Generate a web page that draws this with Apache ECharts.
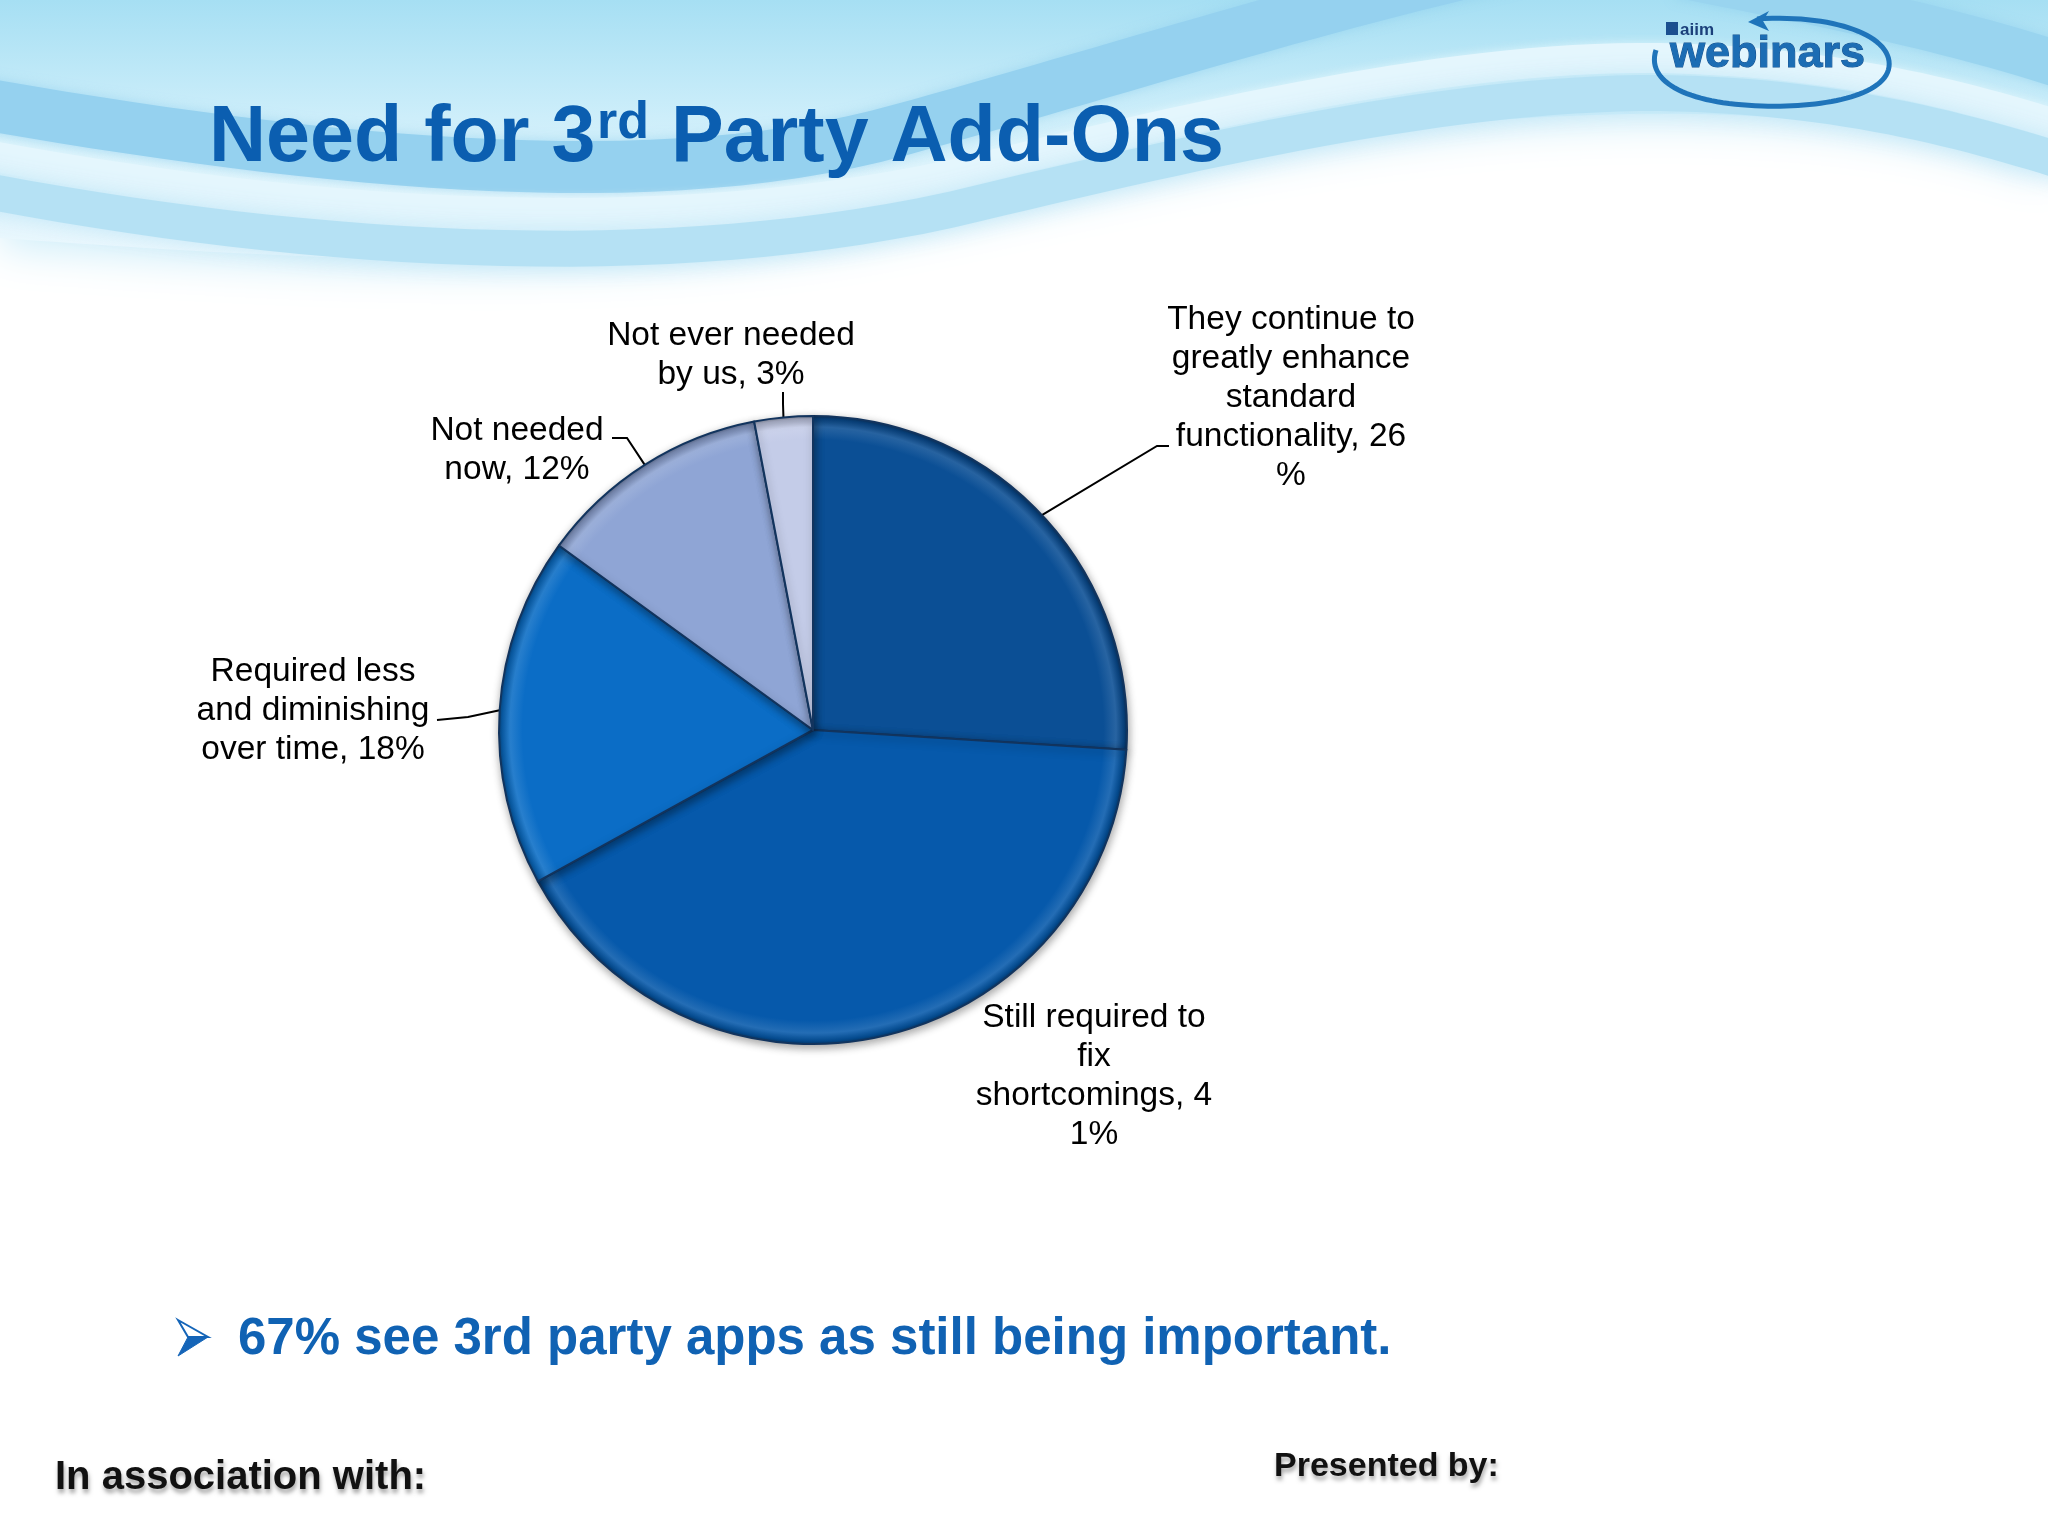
<!DOCTYPE html>
<html>
<head>
<meta charset="utf-8">
<script src="https://cdn.jsdelivr.net/npm/echarts@6/dist/echarts.min.js"></script>
<style>
html,body{margin:0;padding:0;background:#fff;}
#chart{width:2048px;height:1536px;}
</style>
</head>
<body>
<div id="chart"></div>
<script>
// ---------------- data ----------------
const categories = [
  'They continue to greatly enhance standard functionality',
  'Still required to fix shortcomings',
  'Required less and diminishing over time',
  'Not needed now',
  'Not ever needed by us'
];
const values = [26, 41, 18, 12, 3];
const labelTexts = [
  'They continue to\ngreatly enhance\nstandard\nfunctionality, 26\n%',
  'Still required to\nfix\nshortcomings, 4\n1%',
  'Required less\nand diminishing\nover time, 18%',
  'Not needed\nnow, 12%',
  'Not ever needed\nby us, 3%'
];
const sliceColors = ['#0b4f95', '#0659ab', '#0b6dc6', '#8fa5d5', '#c4cce8'];
const titleParts = ['Need for 3', 'rd', ' Party Add-Ons'];
const bulletText = '67% see 3rd party apps as still being important.';
const footerLeft = 'In association with:';
const footerRight = 'Presented by:';
const logoSmall = 'aiim';
const logoBig = 'webinars';

// ---------------- layout ----------------
const PIE_CX = 813, PIE_CY = 730, PIE_R = 314;
const FONT = '"Liberation Sans", Arial, Helvetica, sans-serif';
const LABEL_LAYOUT = [
  { x: 1291, y: 398, line: [[1157, 446], [1169, 446]] },
  { x: 1094, y: 1076, line: null },
  { x: 313,  y: 711, line: [[468, 717], [437, 720]] },
  { x: 517,  y: 450, line: [[627, 438], [612, 438]] },
  { x: 731,  y: 355, line: [[783, 404], [783, 392]] }
];

function mix(hex, target, t) {
  const a = parseInt(hex.slice(1), 16), b = parseInt(target.slice(1), 16);
  const r = Math.round(((a >> 16) & 255) * (1 - t) + ((b >> 16) & 255) * t);
  const g = Math.round(((a >> 8) & 255) * (1 - t) + ((b >> 8) & 255) * t);
  const bl = Math.round((a & 255) * (1 - t) + (b & 255) * t);
  return 'rgb(' + r + ',' + g + ',' + bl + ')';
}
function sliceFill(c) {
  return {
    type: 'radial', x: PIE_CX, y: PIE_CY, r: PIE_R, global: true,
    colorStops: [
      { offset: 0, color: c },
      { offset: 0.925, color: c },
      { offset: 0.965, color: mix(c, '#ffffff', 0.12) },
      { offset: 0.99, color: mix(c, '#000000', 0.15) },
      { offset: 1, color: mix(c, '#000000', 0.35) }
    ]
  };
}
// sample a decorative outline made of straight / cubic segments into points
function sampleCurve(start, segs) {
  const pts = [start];
  let p0 = start;
  segs.forEach(function (seg) {
    if (seg.length === 1) { pts.push(seg[0]); p0 = seg[0]; return; }
    const c1 = seg[0], c2 = seg[1], p3 = seg[2];
    for (let i = 1; i <= 30; i++) {
      const t = i / 30, u = 1 - t;
      pts.push([
        u * u * u * p0[0] + 3 * u * u * t * c1[0] + 3 * u * t * t * c2[0] + t * t * t * p3[0],
        u * u * u * p0[1] + 3 * u * u * t * c1[1] + 3 * u * t * t * c2[1] + t * t * t * p3[1]
      ]);
    }
    p0 = p3;
  });
  return pts;
}

const pieData = categories.map((name, i) => {
  const item = {
    name: name,
    value: values[i],
    itemStyle: { color: sliceFill(sliceColors[i]) }
  };
  if (!LABEL_LAYOUT[i].line) item.labelLine = { show: false };
  return item;
});

// ---------------- background decoration ----------------
const bgGraphics = [
  {
    type: 'polygon', z: 0, silent: true,
    shape: { points: sampleCurve([0, 0], [
      [[2048, 0]], [[2048, 170]],
      [[1900, 115], [1700, 105], [1500, 120]],
      [[1250, 140], [1050, 200], [850, 235]],
      [[600, 275], [300, 260], [0, 238]]
    ]) },
    style: {
      fill: { type: 'linear', x: 0, y: 0, x2: 0, y2: 1, colorStops: [
        { offset: 0, color: '#a6dff3' }, { offset: 0.45, color: '#cdeefa' }, { offset: 1, color: '#eef9fe' }
      ] },
      shadowBlur: 40, shadowColor: 'rgba(200,235,248,0.9)', shadowOffsetY: 8
    }
  },
  {
    type: 'polyline', z: 1, silent: true,
    shape: { points: sampleCurve([-40, 100], [[[300, 160], [650, 200], [900, 130]], [[1100, 75], [1300, 10], [1520, -40]]]) },
    style: { stroke: '#95d1ef', lineWidth: 52, shadowBlur: 12, shadowColor: 'rgba(140,205,236,0.6)' }
  },
  {
    type: 'polyline', z: 1, silent: true,
    shape: { points: sampleCurve([-40, 150], [[[300, 215], [650, 240], [950, 175]], [[1200, 115], [1450, 55], [1660, 58]], [[1850, 62], [1980, 100], [2090, 135]]]) },
    style: { stroke: '#e4f6fd', lineWidth: 30, shadowBlur: 10, shadowColor: 'rgba(230,247,253,0.8)' }
  },
  {
    type: 'polyline', z: 1, silent: true,
    shape: { points: sampleCurve([-40, 186], [[[300, 252], [650, 275], [950, 210]], [[1200, 150], [1450, 92], [1660, 93]], [[1850, 96], [1980, 135], [2090, 170]]]) },
    style: { stroke: '#b5e1f4', lineWidth: 36, shadowBlur: 22, shadowColor: 'rgba(190,228,246,0.9)' }
  },
  {
    type: 'polyline', z: 1, silent: true,
    shape: { points: sampleCurve([1680, -25], [[[1830, 5], [1960, 30], [2090, 75]]]) },
    style: { stroke: '#99d4ef', lineWidth: 46, shadowBlur: 12, shadowColor: 'rgba(140,205,236,0.6)' }
  },
  // logo swoosh
  {
    type: 'polyline', z: 3, silent: true,
    shape: { points: sampleCurve([1757, 19], [[[1835, 14], [1893, 36], [1889, 67]], [[1885, 96], [1822, 108], [1762, 106]], [[1692, 104], [1645, 84], [1656, 50]]]) },
    style: { stroke: '#1f74ba', lineWidth: 5 }
  },
  {
    type: 'polygon', z: 3, silent: true,
    shape: { points: [[1748, 22], [1769, 11], [1763, 21], [1769, 31]] },
    style: { fill: '#1f74ba' }
  },
  {
    type: 'rect', z: 3, silent: true,
    shape: { x: 1666, y: 22, width: 12, height: 13 },
    style: { fill: '#1b4f8f' }
  },
  {
    type: 'text', z: 3, silent: true,
    style: { text: logoSmall, x: 1680, y: 30, fontSize: 17, fontWeight: 'bold', fontFamily: FONT, fill: '#1b3f7a', verticalAlign: 'middle' }
  },
  {
    type: 'text', z: 3, silent: true,
    style: { text: logoBig, x: 1670, y: 55, fontSize: 45, fontWeight: 'bold', fontFamily: FONT, fill: '#1c6db4', verticalAlign: 'middle', stroke: '#15508d', lineWidth: 1 }
  },
  // title
  {
    type: 'text', z: 3, silent: true,
    style: { text: titleParts[0], x: 209, y: 139, fontSize: 79, fontWeight: 'bold', fontFamily: FONT, fill: '#0b5eb0', verticalAlign: 'middle' }
  },
  {
    type: 'text', z: 3, silent: true,
    style: { text: titleParts[1], x: 597, y: 124, fontSize: 52, fontWeight: 'bold', fontFamily: FONT, fill: '#0b5eb0', verticalAlign: 'middle' }
  },
  {
    type: 'text', z: 3, silent: true,
    style: { text: titleParts[2], x: 649, y: 139, fontSize: 79, fontWeight: 'bold', fontFamily: FONT, fill: '#0b5eb0', verticalAlign: 'middle' }
  },
  // bullet arrow
  {
    type: 'polygon', z: 3, silent: true,
    shape: { points: [[178, 1320], [208, 1337], [188, 1337]] },
    style: { fill: '#ffffff', stroke: '#1565b8', lineWidth: 2 }
  },
  {
    type: 'polygon', z: 3, silent: true,
    shape: { points: [[188, 1337], [208, 1337], [178, 1356]] },
    style: { fill: '#1565b8', stroke: '#1565b8', lineWidth: 1 }
  },
  {
    type: 'text', z: 3, silent: true,
    style: { text: bulletText, x: 238, y: 1340, fontSize: 51, fontWeight: 'bold', fontFamily: FONT, fill: '#1062b3', verticalAlign: 'middle' }
  },
  // footer
  {
    type: 'text', z: 3, silent: true,
    style: { text: footerLeft, x: 55, y: 1478, fontSize: 40, fontWeight: 'bold', fontFamily: FONT, fill: '#111111', verticalAlign: 'middle',
      textShadowColor: 'rgba(0,0,0,0.35)', textShadowBlur: 4, textShadowOffsetX: 1, textShadowOffsetY: 4 }
  },
  {
    type: 'text', z: 3, silent: true,
    style: { text: footerRight, x: 1274, y: 1467, fontSize: 34, fontWeight: 'bold', fontFamily: FONT, fill: '#111111', verticalAlign: 'middle',
      textShadowColor: 'rgba(0,0,0,0.35)', textShadowBlur: 4, textShadowOffsetX: 1, textShadowOffsetY: 4 }
  }
];

const chart = echarts.init(document.getElementById('chart'), null, { renderer: 'canvas', width: 2048, height: 1536 });
chart.setOption({
  backgroundColor: '#ffffff',
  animation: false,
  graphic: { elements: bgGraphics },
  series: [{
    type: 'pie',
    z: 5,
    center: [PIE_CX, PIE_CY],
    radius: PIE_R,
    startAngle: 90,
    clockwise: true,
    avoidLabelOverlap: false,
    silent: true,
    data: pieData,
    itemStyle: {
      borderColor: '#12345e',
      borderWidth: 2,
      shadowBlur: 8,
      shadowColor: 'rgba(0,0,0,0.35)',
      shadowOffsetX: 1,
      shadowOffsetY: 3
    },
    label: {
      show: true,
      position: 'outside',
      formatter: function (p) { return labelTexts[p.dataIndex]; },
      fontSize: 33.5,
      lineHeight: 39,
      color: '#000000',
      fontFamily: FONT,
      align: 'center'
    },
    labelLine: {
      show: true,
      length: 20,
      length2: 10,
      lineStyle: { color: '#000000', width: 2 }
    },
    labelLayout: function (p) {
      const L = LABEL_LAYOUT[p.dataIndex];
      const out = { x: L.x, y: L.y, align: 'center', verticalAlign: 'middle' };
      if (L.line && p.labelLinePoints) {
        out.labelLinePoints = [p.labelLinePoints[0], L.line[0], L.line[1]];
      }
      return out;
    }
  }]
});
</script>
</body>
</html>
